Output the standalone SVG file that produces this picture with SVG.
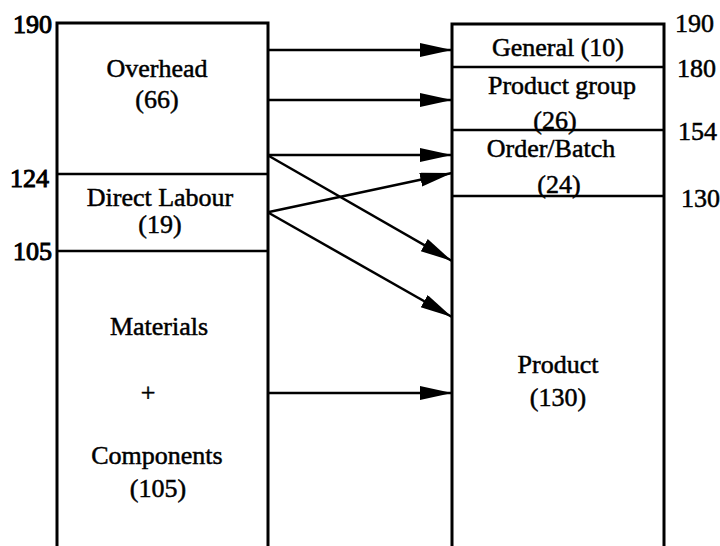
<svg xmlns="http://www.w3.org/2000/svg" width="720" height="546" viewBox="0 0 720 546">
<style>
text{font-family:"Liberation Serif","Times New Roman",serif;font-size:26px;fill:#000;stroke:#000;stroke-width:0.5}
.c{text-anchor:middle}
.e{text-anchor:end;stroke-width:1}
.box{fill:none;stroke:#000;stroke-width:3}
.div{stroke:#000;stroke-width:2.5}
.arr{stroke:#000;stroke-width:2.5;fill:none;marker-end:url(#ah)}
</style>
<defs>
<marker id="ah" markerUnits="userSpaceOnUse" markerWidth="34" markerHeight="16" refX="32" refY="7" orient="auto">
<path d="M0,0 L32,7 L0,14 Z" fill="#000"/>
</marker>
</defs>
<g id="left-column">
<path class="box" d="M57,546 V23 H268 V546"/>
<line class="div" x1="57" y1="174" x2="268" y2="174"/>
<line class="div" x1="57" y1="251" x2="268" y2="251"/>
<text class="e" x="52" y="33">190</text>
<text class="e" x="49" y="187">124</text>
<text class="e" x="52" y="260">105</text>
</g>
<g id="overhead">
<text class="c" x="157" y="77">Overhead</text>
<text class="c" x="157" y="108">(66)</text>
</g>
<g id="direct-labour">
<text class="c" x="160" y="206">Direct Labour</text>
<text class="c" x="160" y="233">(19)</text>
</g>
<g id="materials">
<text class="c" x="159" y="335">Materials</text>
<text class="c" x="148" y="401">+</text>
<text class="c" x="157" y="464">Components</text>
<text class="c" x="158" y="497">(105)</text>
</g>
<g id="right-column">
<path class="box" d="M452,546 V24 H664 V546"/>
<line class="div" x1="452" y1="67" x2="664" y2="67"/>
<line class="div" x1="452" y1="130" x2="664" y2="130"/>
<line class="div" x1="452" y1="196" x2="664" y2="196"/>
<text x="675" y="32">190</text>
<text x="677" y="77">180</text>
<text x="678" y="140">154</text>
<text x="681" y="207">130</text>
</g>
<g id="general">
<text class="c" x="558" y="56">General (10)</text>
</g>
<g id="product-group">
<text class="c" x="562" y="94">Product group</text>
<text class="c" x="555" y="129">(26)</text>
</g>
<g id="order-batch">
<text class="c" x="551" y="157">Order/Batch</text>
<text class="c" x="559" y="193">(24)</text>
</g>
<g id="product">
<text class="c" x="558" y="373">Product</text>
<text class="c" x="558" y="406">(130)</text>
</g>
<g id="connectors">
<line class="arr" x1="269" y1="50" x2="452" y2="50"/>
<line class="arr" x1="269" y1="100" x2="452" y2="100"/>
<line class="arr" x1="269" y1="155" x2="452" y2="155"/>
<line class="arr" x1="269" y1="212" x2="452" y2="173"/>
<line class="arr" x1="269" y1="156" x2="452" y2="261"/>
<line class="arr" x1="269" y1="213" x2="452" y2="317"/>
<line class="arr" x1="269" y1="393" x2="452" y2="393"/>
</g>
</svg>
